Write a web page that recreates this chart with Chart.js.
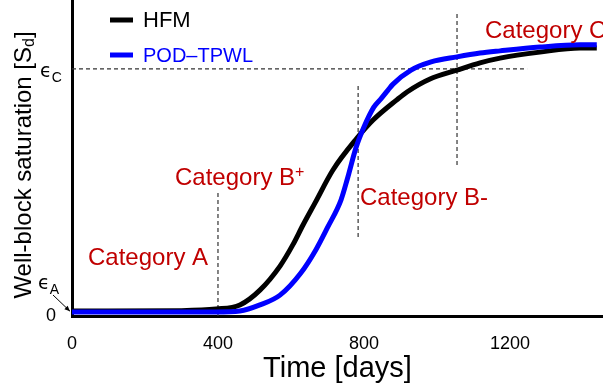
<!DOCTYPE html>
<html>
<head>
<meta charset="utf-8">
<script src="https://cdn.jsdelivr.net/npm/chart.js@4.4.1/dist/chart.umd.min.js"></script>
<style>
   html, body { margin: 0; padding: 0; background: #fff; }
   canvas { display: block; }
</style>
</head>
<body>
<canvas id="chart" width="603" height="390"></canvas>
<script>
// HFM (high-fidelity model) saturation curve
let hfmDays = [0, 100, 300, 395, 460, 515, 570, 605, 633, 666, 715, 781, 825, 890, 918, 981, 1055, 1118, 1173, 1282, 1392, 1438];
let hfmSat = [0.016, 0.016, 0.017, 0.022, 0.035, 0.082, 0.158, 0.225, 0.288, 0.358, 0.462, 0.563, 0.620, 0.684, 0.709, 0.750, 0.778, 0.801, 0.816, 0.835, 0.848, 0.848];

// POD-TPWL reduced model curve
let podDays = [0, 395, 460, 515, 570, 627, 668, 701, 737, 756, 778, 800, 827, 847, 866, 879, 929, 984, 1055, 1118, 1173, 1282, 1392, 1438];
let podSat = [0.013, 0.013, 0.016, 0.035, 0.066, 0.136, 0.209, 0.282, 0.367, 0.440, 0.532, 0.598, 0.661, 0.688, 0.715, 0.733, 0.778, 0.804, 0.820, 0.832, 0.839, 0.851, 0.858, 0.858];

// category boundaries (dashed verticals)
let markerDays = [400, 784, 1055];
let markerLow = [0, 0.25, 0.478];
let markerHigh = [0.392, 0.731, 0.959];

let epsA = 0.015;
let epsC = 0.782;
let epsCEnd = 1247;

let xTicks = [0, 400, 800, 1200];
let yTicks = [0];

let fontFamily = "'Liberation Sans', Arial, sans-serif";
Chart.defaults.font.family = fontFamily;
Chart.defaults.color = '#000';

function toPoints(xs, ys) {
   return xs.map((d, i) => ({ x: d, y: ys[i] }));
}

let dashed = {
   borderColor: '#333',
   borderWidth: 1.2,
   borderDash: [4, 3],
   pointRadius: 0,
   fill: false,
   order: 2
};

let datasets = [
   {
      label: 'POD–TPWL',
      data: toPoints(podDays, podSat),
      borderColor: '#0000ff',
      borderWidth: 5,
      pointRadius: 0,
      cubicInterpolationMode: 'monotone',
      order: 0
   },
   {
      label: 'HFM',
      data: toPoints(hfmDays, hfmSat),
      borderColor: '#000',
      borderWidth: 5,
      pointRadius: 0,
      cubicInterpolationMode: 'monotone',
      order: 1
   },
   Object.assign({ label: 'eps C', data: [{ x: 0, y: epsC }, { x: epsCEnd, y: epsC }] }, dashed)
];
markerDays.forEach((d, i) => {
   datasets.push(Object.assign({ label: 'boundary ' + i, data: [{ x: d, y: markerLow[i] }, { x: d, y: markerHigh[i] }] }, dashed));
});

function drawSub(ctx, main, sub, x, y, mainFont, subFont, dy) {
   ctx.font = mainFont;
   ctx.fillText(main, x, y);
   let w = ctx.measureText(main).width;
   ctx.font = subFont;
   ctx.fillText(sub, x + w, y + dy);
}

let annotations = {
   id: 'annotations',
   afterDraw(chart) {
      let ctx = chart.ctx;
      let ys = chart.scales.y;
      let area = chart.chartArea;
      ctx.save();

      // legend
      ctx.lineWidth = 5;
      ctx.strokeStyle = '#000';
      ctx.beginPath(); ctx.moveTo(110, 20); ctx.lineTo(133, 20); ctx.stroke();
      ctx.strokeStyle = '#0000ff';
      ctx.beginPath(); ctx.moveTo(110, 55); ctx.lineTo(133, 55); ctx.stroke();
      ctx.textBaseline = 'middle';
      ctx.fillStyle = '#000';
      ctx.font = '22px ' + fontFamily;
      ctx.fillText('HFM', 143, 21);
      ctx.fillStyle = '#0000ff';
      ctx.font = '20px ' + fontFamily;
      ctx.fillText('POD–TPWL', 143, 56);

      // category labels
      ctx.textBaseline = 'alphabetic';
      ctx.fillStyle = '#c00000';
      let catFont = '24px ' + fontFamily;
      ctx.font = catFont;
      ctx.fillText('Category A', 88, 265);
      drawSub(ctx, 'Category B', '+', 175, 185, catFont, '16px ' + fontFamily, -8);
      ctx.font = catFont;
      ctx.fillText('Category B-', 360, 205);
      ctx.fillText('Category C', 485, 38);

      // epsilon tick labels
      ctx.fillStyle = '#000';
      let yC = ys.getPixelForValue(epsC);
      drawSub(ctx, 'ϵ', 'C', 40, yC + 8, "19px 'DejaVu Sans'", '14px ' + fontFamily, 5);
      let yA = ys.getPixelForValue(epsA);
      drawSub(ctx, 'ϵ', 'A', 38, 289, "19px 'DejaVu Sans'", '14px ' + fontFamily, 5);

      // arrow from eps_A label down to the axis
      let tx = area.left - 2, ty = yA;
      let fx = 53, fy = 295;
      ctx.strokeStyle = '#000';
      ctx.lineWidth = 1;
      ctx.beginPath(); ctx.moveTo(fx, fy); ctx.lineTo(tx, ty); ctx.stroke();
      let ang = Math.atan2(ty - fy, tx - fx);
      ctx.beginPath();
      ctx.moveTo(tx, ty);
      ctx.lineTo(tx - 6 * Math.cos(ang - 0.4), ty - 6 * Math.sin(ang - 0.4));
      ctx.lineTo(tx - 6 * Math.cos(ang + 0.4), ty - 6 * Math.sin(ang + 0.4));
      ctx.closePath();
      ctx.fill();

      // y axis title with subscript
      let mainFont = '24px ' + fontFamily;
      let subFont = '16px ' + fontFamily;
      let t1 = 'Well-block saturation [S', t2 = 'd', t3 = ']';
      ctx.font = mainFont;
      let w1 = ctx.measureText(t1).width, w3 = ctx.measureText(t3).width;
      ctx.font = subFont;
      let w2 = ctx.measureText(t2).width;
      let total = w1 + w2 + w3;
      ctx.translate(24, 165);
      ctx.rotate(-Math.PI / 2);
      ctx.textBaseline = 'middle';
      let sx = -total / 2;
      ctx.font = mainFont;
      ctx.fillText(t1, sx, 0);
      ctx.font = subFont;
      ctx.fillText(t2, sx + w1, 6);
      ctx.font = mainFont;
      ctx.fillText(t3, sx + w1 + w2, 0);
      ctx.restore();
   }
};

new Chart(document.getElementById('chart'), {
   type: 'line',
   data: { datasets: datasets },
   options: {
      responsive: false,
      animation: false,
      devicePixelRatio: 1,
      layout: { padding: 0 },
      plugins: {
         legend: { display: false },
         tooltip: { enabled: false }
      },
      scales: {
         x: {
            type: 'linear',
            min: 0,
            max: 1455,
            grid: { display: false },
            border: { display: true, color: '#000', width: 3 },
            ticks: { font: { size: 18 }, color: '#000', padding: 9, callback: (v) => String(v) },
            afterBuildTicks: (scale) => { scale.ticks = xTicks.map(v => ({ value: v })); },
            afterFit: (scale) => {
               scale.height = 74;
               scale.paddingLeft = 0;
               scale.paddingRight = 0;
            },
            title: {
               display: true,
               text: 'Time [days]',
               font: { size: 29 },
               color: '#000',
               padding: { top: 0, bottom: 4 }
            }
         },
         y: {
            min: 0,
            max: 1,
            grid: { display: false },
            border: { display: true, color: '#000', width: 3 },
            ticks: { font: { size: 18 }, color: '#000', padding: 8 },
            afterBuildTicks: (scale) => { scale.ticks = yTicks.map(v => ({ value: v })); },
            afterFit: (scale) => {
               scale.width = 72;
               scale.paddingTop = 0;
               scale.paddingBottom = 0;
            }
         }
      }
   },
   plugins: [annotations]
});
</script>
</body>
</html>
